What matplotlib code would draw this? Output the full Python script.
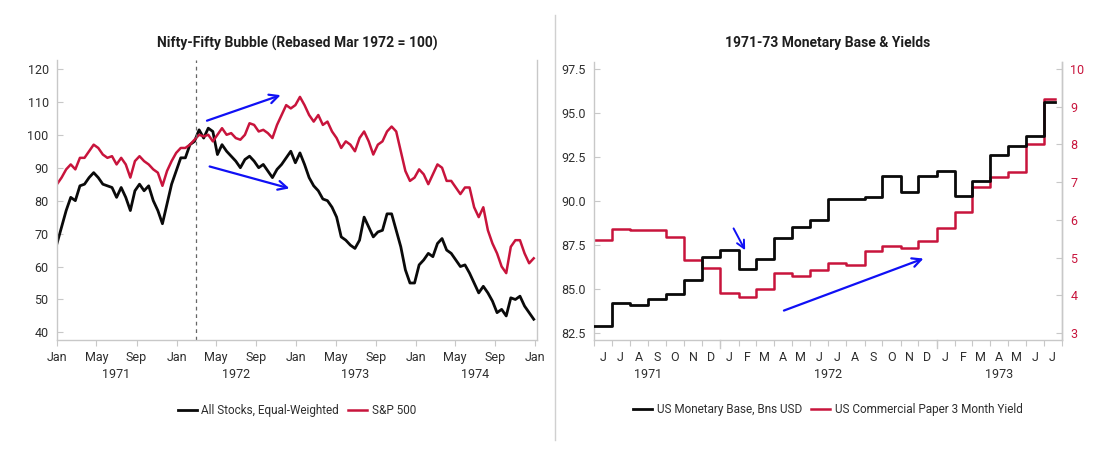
import numpy as np
import pandas as pd
import matplotlib
matplotlib.use("Agg")
import matplotlib.pyplot as plt
import matplotlib.dates as mdates
import matplotlib.transforms as mtransforms
from matplotlib.lines import Line2D

plt.rcParams["font.family"] = ["Roboto", "DejaVu Sans"]

# ---- left panel data (bi-weekly, rebased Mar 1972 = 100)
nifty_dates = pd.date_range("1971-01-01", periods=105, freq="14D")
all_stocks = [
    67, 72, 77, 81, 80, 84.5, 85, 87, 88.5, 87, 85, 84.5, 84, 81, 84, 81, 77, 83,
    85, 83, 84.5, 80, 77, 73, 79, 85, 89, 93, 93, 97, 98, 101.5, 99, 102, 101, 94,
    97, 95, 93.5, 92, 90, 92.5, 93.5, 92, 90, 91, 89, 87, 89.5, 91, 93, 95, 91.5,
    94.5, 91, 87, 84.5, 83, 80.5, 80, 78, 75, 69, 68, 66.5, 65.5, 68, 75, 72, 69,
    70.5, 71, 76, 76, 71, 66, 59, 55, 55, 60.5, 62, 64, 63, 67, 68.5, 65, 64, 62,
    60, 60.5, 58, 55, 52, 54, 52, 49.5, 46, 47, 45, 50.5, 50, 51, 48, 46, 44,
]
sp500 = [
    85, 87, 89.5, 91, 89.5, 93, 93, 95, 97, 96, 94, 93, 93.5, 91, 93, 91, 87, 92,
    93.5, 92, 91, 89.5, 88.5, 84.5, 89, 92, 94.5, 96, 96, 97, 98.5, 100, 99.5, 100,
    98, 100, 102, 100, 100.5, 99, 98.5, 100, 103.5, 103, 101, 101.5, 100.5, 99, 103,
    106, 109, 108, 109, 111.5, 109, 106, 104, 106, 103, 104, 101, 99, 96, 98, 97,
    95, 99, 101, 98, 94, 97, 98, 101, 102.5, 101, 95, 89, 86, 87, 89.5, 88, 85, 88,
    91, 90, 86, 86, 84, 82, 84, 84, 78, 75, 78, 71, 67, 64, 60, 58, 66, 68, 68, 64,
    61, 62.5,
]
rebase_date = "1972-03-01"

# ---- right panel data (monthly)
mb_dates = pd.date_range("1971-06-01", "1973-07-01", freq="MS")
monetary_base = [
    82.9, 84.2, 84.1, 84.4, 84.7, 85.5, 86.8, 87.2, 86.1, 86.7, 87.9, 88.5, 88.9,
    90.1, 90.1, 90.2, 91.4, 90.5, 91.4, 91.7, 90.3, 91.1, 92.6, 93.1, 93.7, 95.6,
]
cp_yield = [
    5.46, 5.75, 5.73, 5.74, 5.55, 4.93, 4.73, 4.07, 3.95, 4.17, 4.59, 4.50, 4.66,
    4.86, 4.81, 5.16, 5.30, 5.25, 5.45, 5.78, 6.21, 6.88, 7.14, 7.27, 8.00, 9.20,
]

BLACK = "#0a0a0a"
RED = "#C8143C"
BLUE = "#1010F5"
GRID = "#c8c8c8"
TXT = "#2e2e2e"
FS = 9

fig = plt.figure(figsize=(11.2, 4.57), dpi=100)
ax1 = fig.add_axes([57 / 1120, 117 / 457, 480 / 1120, 280 / 457])
ax2 = fig.add_axes([594 / 1120, 117 / 457, 468 / 1120, 278 / 457])


def style_axis(ax):
    for s in ("left", "right", "bottom"):
        ax.spines[s].set_color(GRID)
        ax.spines[s].set_linewidth(1.0)
    ax.spines["top"].set_visible(False)
    ax.tick_params(axis="y", direction="in", length=4, color=GRID,
                   labelsize=FS, labelcolor=TXT, pad=6)
    ax.tick_params(axis="x", direction="out", length=4, color=GRID,
                   labelsize=FS, labelcolor=TXT)


# ---------------- left panel
ax1.plot(nifty_dates, all_stocks, color=BLACK, lw=2.0, label="All Stocks, Equal-Weighted")
ax1.plot(nifty_dates, sp500, color=RED, lw=1.8, label="S&P 500")
ax1.axvline(pd.Timestamp(rebase_date), color="#666666", lw=0.9, ls=(0, (3, 3)))
ax1.set_xlim(pd.Timestamp("1971-01-01"), pd.Timestamp("1975-01-06"))
ax1.set_ylim(37.7, 122.7)
ax1.set_yticks(range(40, 121, 10))
ax1.xaxis.set_major_locator(mdates.MonthLocator(bymonth=[1, 5, 9]))
ax1.xaxis.set_major_formatter(mdates.DateFormatter("%b"))
style_axis(ax1)
ax1.tick_params(axis="x", pad=4)
for yr in range(1971, 1975):
    ax1.text(pd.Timestamp(f"{yr}-07-01"), -0.1, str(yr),
             transform=mtransforms.blended_transform_factory(ax1.transData, ax1.transAxes),
             ha="center", va="top", fontsize=FS, color=TXT)
ax1.set_title("Nifty-Fifty Bubble (Rebased Mar 1972 = 100)", fontsize=10,
              fontweight="bold", color="#1e1e1e", pad=9)
ax1.annotate("", xy=(pd.Timestamp("1972-11-22"), 112.3),
             xytext=(pd.Timestamp("1972-03-26"), 104),
             arrowprops=dict(arrowstyle="->", color=BLUE, lw=1.6, mutation_scale=16))
ax1.annotate("", xy=(pd.Timestamp("1972-12-19"), 83.5),
             xytext=(pd.Timestamp("1972-04-03"), 90.6),
             arrowprops=dict(arrowstyle="->", color=BLUE, lw=1.6, mutation_scale=16))
ax1.legend(loc="upper center", bbox_to_anchor=(0.5, -0.19), ncol=2, frameon=False,
           fontsize=8.5, handlelength=1.6, handletextpad=0.4, columnspacing=0.8,
           labelcolor=TXT)

# ---------------- right panel
ax2b = ax2.twinx()
end_date = pd.Timestamp("1973-07-20")
mb_x = list(mb_dates) + [end_date]
ax2.step(mb_x, monetary_base + [monetary_base[-1]], where="post", color=BLACK, lw=2.0, zorder=3)
ax2b.step(mb_x, cp_yield + [cp_yield[-1]], where="post", color=RED, lw=1.8, zorder=2)
ax2.set_zorder(ax2b.get_zorder() + 1)
ax2.patch.set_visible(False)

ax2.set_xlim(pd.Timestamp("1971-06-01"), pd.Timestamp("1973-08-01"))
ax2.set_ylim(82.08, 97.9)
ax2.set_yticks([82.5, 85.0, 87.5, 90.0, 92.5, 95.0, 97.5])
ax2.yaxis.set_major_formatter(matplotlib.ticker.FormatStrFormatter("%.1f"))
ax2b.set_ylim(2.81, 10.19)
ax2b.set_yticks(range(3, 11))
style_axis(ax2)
style_axis(ax2b)
ax2b.tick_params(axis="y", labelcolor=RED)
ax2b.spines["left"].set_visible(False)
ax2b.spines["bottom"].set_visible(False)

ax2.xaxis.set_major_locator(mdates.MonthLocator())
ax2.xaxis.set_major_formatter(matplotlib.ticker.NullFormatter())
ax2.xaxis.set_minor_locator(mdates.MonthLocator(bymonthday=16))
ax2.xaxis.set_minor_formatter(
    matplotlib.ticker.FuncFormatter(lambda v, p: mdates.num2date(v).strftime("%b")[0]))
ax2.tick_params(axis="x", which="minor", length=0, labelsize=FS, labelcolor=TXT, pad=8)
trans2 = mtransforms.blended_transform_factory(ax2.transData, ax2.transAxes)
for yd in ["1972-01-01", "1973-01-01"]:
    ax2.plot([pd.Timestamp(yd)] * 2, [0, -0.03], transform=trans2, color=GRID,
             lw=1.0, clip_on=False)
for yr, mid in [("1971", "1971-09-01"), ("1972", "1972-07-01"), ("1973", "1973-04-16")]:
    ax2.text(pd.Timestamp(mid), -0.1, yr, transform=trans2, ha="center", va="top",
             fontsize=FS, color=TXT)
ax2.set_title("1971-73 Monetary Base & Yields", fontsize=10, fontweight="bold",
              color="#1e1e1e", pad=11)
ax2.annotate("", xy=(pd.Timestamp("1972-02-14"), 87.05),
             xytext=(pd.Timestamp("1972-01-21"), 88.57),
             arrowprops=dict(arrowstyle="->", color=BLUE, lw=1.4, mutation_scale=14))
ax2.annotate("", xy=(pd.Timestamp("1972-12-14"), 86.77),
             xytext=(pd.Timestamp("1972-04-13"), 83.7),
             arrowprops=dict(arrowstyle="->", color=BLUE, lw=1.6, mutation_scale=16))
handles = [Line2D([], [], color=BLACK, lw=2.0), Line2D([], [], color=RED, lw=1.8)]
ax2.legend(handles, ["US Monetary Base, Bns USD", "US Commercial Paper 3 Month Yield"],
           loc="upper center", bbox_to_anchor=(0.5, -0.19), ncol=2, frameon=False,
           fontsize=8.5, handlelength=1.6, handletextpad=0.4, columnspacing=0.8,
           labelcolor=TXT)

# divider between panels
fig.add_artist(Line2D([555 / 1120, 555 / 1120], [17 / 457, 442 / 457], color="#d0d0d0", lw=1.0))

fig.savefig("out.png", dpi=100, facecolor="white")
